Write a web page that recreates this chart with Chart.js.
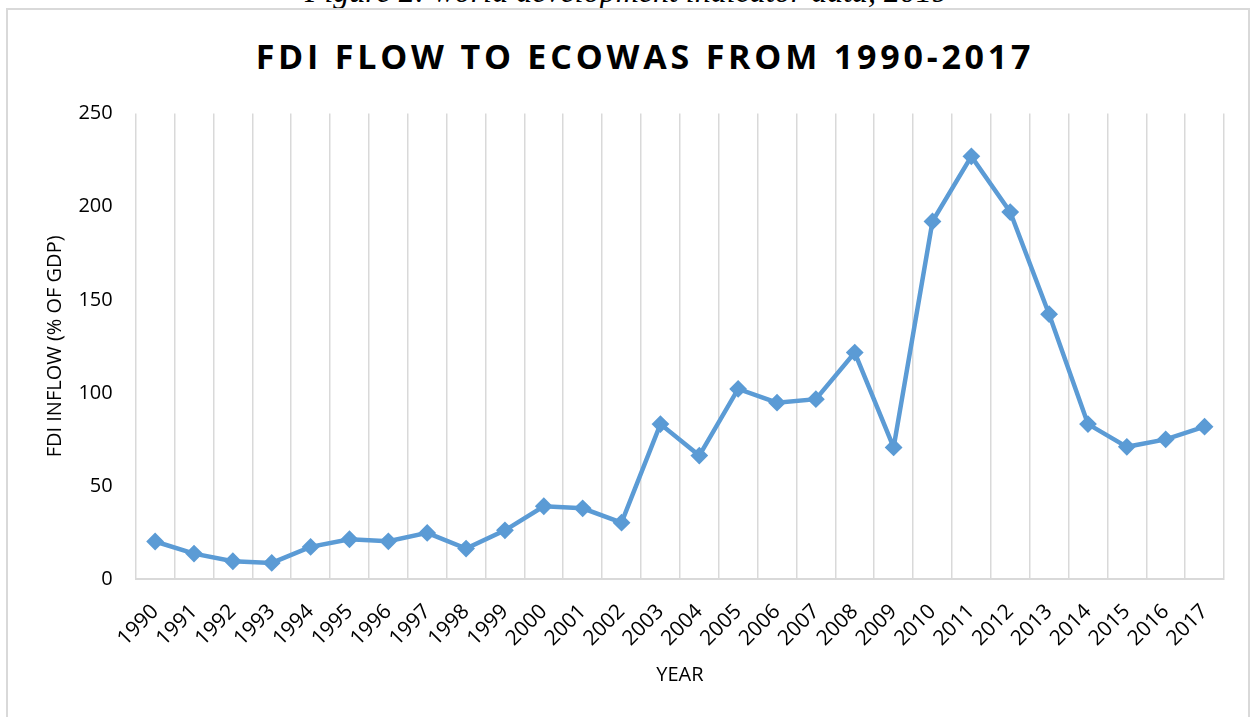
<!DOCTYPE html>
<html>
<head>
<meta charset="utf-8">
<script src="https://cdn.jsdelivr.net/npm/chart.js@4"></script>
<style>
  html, body { margin: 0; padding: 0; background: #fff; width: 1253px; height: 717px; overflow: hidden; }
  #wrap { position: relative; width: 1253px; height: 717px; }
  #frame { position: absolute; left: 6px; top: 8px; width: 1244px; height: 720px; border: 2px solid #d9d9d9; box-sizing: border-box; }
  #caption { position: absolute; left: 0; width: 1253px; top: -25px; text-align: center; font-family: "Liberation Serif", "Times New Roman", serif; font-style: italic; font-size: 32px; line-height: 32px; color: #000; white-space: nowrap; }
  #title { position: absolute; left: 4px; width: 1282px; top: 34px; text-align: center; font-family: "Open Sans", sans-serif; font-weight: 700; font-size: 34px; line-height: 44px; letter-spacing: 3.8px; color: #000; white-space: nowrap; }
  canvas { position: absolute; left: 0; top: 0; }
</style>
</head>
<body>
<div id="wrap">
  <div id="caption">Figure 2: world development indicator data, 2019</div>
  <div id="frame"></div>
  <div id="title">FDI FLOW TO ECOWAS FROM 1990-2017</div>
  <canvas id="c" width="1253" height="717"></canvas>
</div>
<script>
const chartTitle = "FDI FLOW TO ECOWAS FROM 1990-2017";
const yAxisTitle = "FDI INFLOW (% OF GDP)";
const xAxisTitle = "YEAR";
const years = ["1990","1991","1992","1993","1994","1995","1996","1997","1998","1999",
               "2000","2001","2002","2003","2004","2005","2006","2007","2008","2009",
               "2010","2011","2012","2013","2014","2015","2016","2017"];
const fdiInflow = [20.3, 13.8, 9.7, 8.8, 17.4, 21.5, 20.4, 24.9, 16.5, 26.3,
                   39.2, 38.1, 30.4, 83.3, 66.4, 102.2, 94.8, 96.7, 121.7, 70.8,
                   192.1, 227.0, 197.1, 142.3, 83.3, 71.1, 75.1, 81.9];
const yTicks = [0, 50, 100, 150, 200, 250];

const FONT = "'Open Sans', sans-serif";

new Chart(document.getElementById('c'), {
  type: 'line',
  data: {
    labels: years,
    datasets: [{
      label: chartTitle,
      data: fdiInflow,
      borderColor: '#5b9bd5',
      backgroundColor: '#5b9bd5',
      borderWidth: 4.5,
      pointStyle: 'rectRot',
      pointRadius: 7.5,
      pointBorderWidth: 2,
      pointBackgroundColor: '#5b9bd5',
      pointBorderColor: '#5b9bd5',
      tension: 0,
      fill: false
    }]
  },
  options: {
    responsive: false,
    animation: false,
    devicePixelRatio: 1,
    layout: { padding: { left: 0, top: 113.5, right: 29, bottom: 0 } },
    plugins: {
      legend: { display: false },
      title: { display: false },
      tooltip: { enabled: false }
    },
    scales: {
      x: {
        type: 'category',
        offset: true,
        grid: { display: true, offset: true, color: '#d9d9d9', lineWidth: 1.5, drawTicks: false },
        border: { display: true, color: '#d9d9d9', width: 2 },
        ticks: {
          color: '#000',
          font: { family: FONT, size: 21 },
          minRotation: 45,
          maxRotation: 45,
          padding: 20,
          autoSkip: false
        },
        title: {
          display: true,
          text: xAxisTitle,
          color: '#000',
          font: { family: FONT, size: 20 },
          padding: { top: 0, bottom: 30 }
        },
        afterFit: (s) => { s.height = 717 - 579.3; }
      },
      y: {
        min: 0,
        max: 250,
        grid: { display: false, drawTicks: false },
        border: { display: false },
        afterBuildTicks: (s) => { s.ticks = yTicks.map(v => ({ value: v })); },
        ticks: {
          color: '#000',
          font: { family: FONT, size: 20 },
          padding: 23
        },
        title: {
          display: true,
          text: yAxisTitle,
          color: '#000',
          font: { family: FONT, size: 20 },
          padding: { top: 43, bottom: 0 }
        },
        afterFit: (s) => { s.width = 135.7; }
      }
    }
  }
});
</script>
</body>
</html>
